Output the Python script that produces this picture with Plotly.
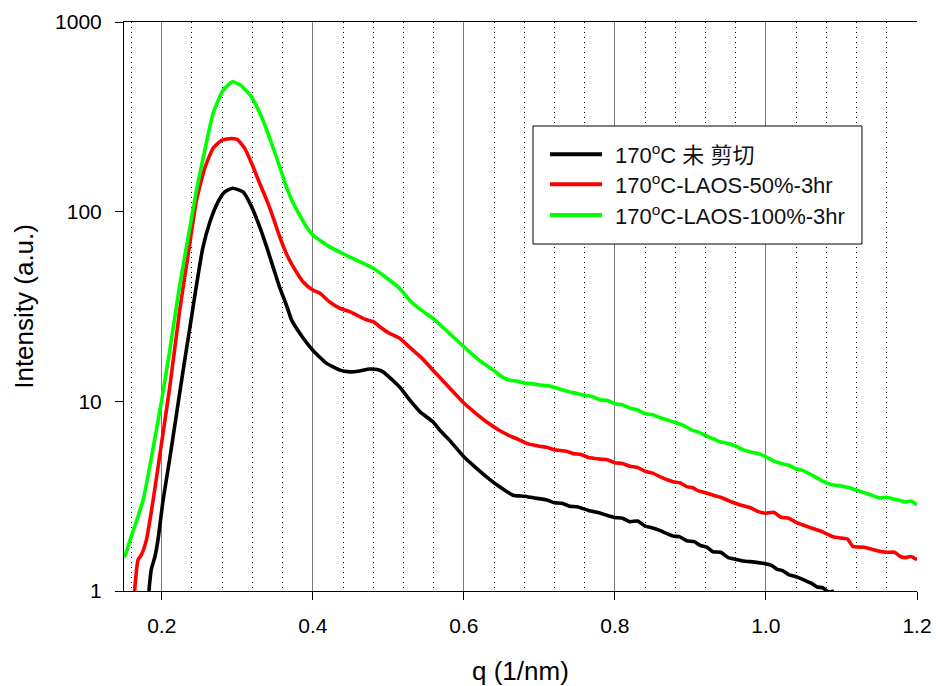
import plotly.graph_objects as go

# Scattering profiles, intensity (a.u.) vs q (1/nm)
names = ["170<sup>o</sup>C 未 剪切", "170<sup>o</sup>C-LAOS-50%-3hr", "170<sup>o</sup>C-LAOS-100%-3hr"]
colors = ["#000000", "#ff0000", "#00ff00"]

q_unsheared = [0.183, 0.186, 0.191, 0.195, 0.2017, 0.2106, 0.2194, 0.228, 0.2371, 0.246, 0.2543, 0.2636,
               0.2742, 0.2834, 0.294, 0.3077, 0.319, 0.3298, 0.339, 0.3474, 0.356, 0.365, 0.372, 0.383,
               0.4, 0.418, 0.436, 0.449, 0.46, 0.475, 0.485, 0.493, 0.505, 0.515, 0.528, 0.542,
               0.559, 0.568, 0.58, 0.6, 0.615, 0.63, 0.645, 0.665, 0.68, 0.692, 0.71, 0.72, 0.73,
               0.74, 0.75, 0.765, 0.78, 0.79, 0.8, 0.81, 0.82, 0.83, 0.84, 0.85, 0.86, 0.877,
               0.886, 0.895, 0.905, 0.913, 0.922, 0.93, 0.94, 0.95, 0.96, 0.97, 0.985, 1.0,
               1.008, 1.015, 1.022, 1.03, 1.04, 1.047, 1.055, 1.06, 1.068, 1.075, 1.083, 1.09]
i_unsheared = [1.0, 1.29, 1.52, 1.86, 3.0, 5.0, 8.5, 14.3, 24.3, 41.0, 64.3, 88.0,
               112.0, 127.0, 133.0, 127.0, 106.0, 83.0, 65.0, 51.0, 40.0, 32.2, 26.8, 22.8,
               18.6, 15.9, 14.6, 14.3, 14.4, 14.8, 14.7, 14.3, 13.0, 11.9, 10.2, 8.8,
               7.8, 7.06, 6.3, 5.1, 4.5, 4.0, 3.6, 3.2, 3.16, 3.1, 3.02, 2.92, 2.9,
               2.8, 2.78, 2.66, 2.58, 2.5, 2.44, 2.42, 2.32, 2.34, 2.2, 2.15, 2.08, 1.95,
               1.93, 1.84, 1.82, 1.74, 1.7, 1.61, 1.6, 1.5, 1.47, 1.44, 1.42, 1.39,
               1.36, 1.3, 1.28, 1.22, 1.19, 1.16, 1.12, 1.1, 1.05, 1.04, 0.99, 1.0]

q_laos50 = [0.164, 0.1686, 0.173, 0.1797, 0.1885, 0.1974, 0.2106, 0.2238, 0.2344, 0.246, 0.257,
            0.268, 0.2795, 0.292, 0.3, 0.31, 0.319, 0.33, 0.339, 0.348, 0.356, 0.365, 0.374,
            0.387, 0.4, 0.4095, 0.422, 0.436, 0.448, 0.458, 0.47, 0.48, 0.49, 0.5, 0.515, 0.53,
            0.545, 0.559, 0.575, 0.588, 0.6, 0.615, 0.63, 0.645, 0.66, 0.672, 0.683, 0.7,
            0.71, 0.72, 0.736, 0.745, 0.755, 0.765, 0.78, 0.79, 0.8, 0.81, 0.82, 0.83, 0.84,
            0.85, 0.86, 0.877, 0.886, 0.895, 0.903, 0.91, 0.92, 0.93, 0.94, 0.95, 0.965, 0.98,
            0.99, 1.0, 1.01, 1.02, 1.03, 1.04, 1.05, 1.06, 1.075, 1.089, 1.1, 1.108, 1.115,
            1.13, 1.14, 1.15, 1.16, 1.17, 1.178, 1.185, 1.192, 1.2]
i_laos50 = [1.0, 1.46, 1.55, 1.86, 3.0, 5.2, 11.9, 30.3, 57.6, 115.0, 170.0,
            216.0, 238.0, 243.0, 240.0, 215.0, 180.0, 140.0, 115.0, 92.0, 74.0, 60.0, 51.3,
            42.7, 38.6, 37.1, 33.5, 30.9, 29.8, 28.5, 27.0, 26.3, 24.5, 23.0, 21.5, 19.0,
            16.8, 14.6, 12.5, 11.0, 9.8, 8.7, 7.8, 7.1, 6.6, 6.3, 6.0, 5.8,
            5.72, 5.55, 5.45, 5.3, 5.25, 5.05, 4.96, 4.92, 4.75, 4.7, 4.55, 4.48, 4.28,
            4.18, 4.0, 3.77, 3.72, 3.55, 3.5, 3.38, 3.3, 3.2, 3.12, 3.0, 2.85, 2.74,
            2.62, 2.57, 2.6, 2.45, 2.42, 2.3, 2.22, 2.15, 2.05, 1.93, 1.9, 1.88, 1.72,
            1.7, 1.66, 1.62, 1.6, 1.6, 1.52, 1.5, 1.52, 1.46]

q_laos100 = [0.15, 0.153, 0.158, 0.1752, 0.188, 0.2, 0.2106, 0.2238, 0.2371, 0.246, 0.257, 0.268,
             0.2812, 0.294, 0.305, 0.3188, 0.33, 0.3386, 0.348, 0.3563, 0.365, 0.3739, 0.3917, 0.4,
             0.42, 0.44, 0.46, 0.48, 0.5, 0.515, 0.53, 0.545, 0.559, 0.58, 0.6, 0.62, 0.639,
             0.65, 0.661, 0.67, 0.68, 0.69, 0.7, 0.71, 0.718, 0.73, 0.74, 0.75, 0.758, 0.77,
             0.78, 0.79, 0.8, 0.81, 0.82, 0.83, 0.84, 0.85, 0.86, 0.877, 0.89, 0.9, 0.91, 0.92,
             0.93, 0.94, 0.95, 0.96, 0.97, 0.98, 0.99, 1.0, 1.01, 1.02, 1.03, 1.04, 1.05, 1.06,
             1.075, 1.089, 1.1, 1.11, 1.12, 1.13, 1.14, 1.15, 1.16, 1.17, 1.178, 1.185, 1.192, 1.2]
i_laos100 = [1.5, 1.6, 1.85, 3.0, 5.5, 10.2, 18.6, 41.0, 82.0, 130.0, 211.0, 330.0,
             437.0, 484.0, 462.0, 403.0, 330.0, 272.0, 214.0, 172.0, 135.0, 111.0, 83.0, 75.3,
             66.0, 60.0, 55.0, 50.3, 44.0, 39.4, 33.5, 30.0, 27.4, 23.0, 19.4, 16.5, 14.6,
             13.5, 12.9, 12.8, 12.5, 12.4, 12.2, 12.1, 11.9, 11.5, 11.2, 11.0, 10.8, 10.6,
             10.2, 10.1, 9.7, 9.6, 9.2, 9.0, 8.6, 8.5, 8.2, 7.8, 7.5, 7.1, 6.9, 6.6,
             6.35, 6.1, 6.0, 5.8, 5.55, 5.4, 5.3, 5.1, 4.85, 4.7, 4.6, 4.4, 4.3, 4.1,
             3.8, 3.62, 3.58, 3.5, 3.4, 3.3, 3.2, 3.1, 3.12, 3.05, 3.0, 2.95, 2.98, 2.84]

xs = [q_unsheared, q_laos50, q_laos100]
ys = [i_unsheared, i_laos50, i_laos100]

x_ticks = [0.2, 0.4, 0.6, 0.8, 1.0, 1.2]
x_ticklabels = ["0.2", "0.4", "0.6", "0.8", "1.0", "1.2"]
y_ticks = [1, 10, 100, 1000]
y_ticklabels = ["1", "10", "100", "1000"]
x_title = "q (1/nm)"
y_title = "Intensity (a.u.)"

FONT = "Liberation Sans, Arial, Noto Sans CJK SC, sans-serif"

fig = go.Figure()
for x, y, name, c in zip(xs, ys, names, colors):
    fig.add_trace(go.Scatter(x=x, y=y, mode="lines", name=name, showlegend=False,
                             line=dict(color=c, width=3.6, shape="spline", smoothing=0.5)))

# Boxed legend drawn in paper coordinates
box = dict(x0=0.5158, x1=0.9306, y0=0.6098, y1=0.8172)
row_y = [0.7675, 0.7148, 0.6608]
shapes = [dict(type="rect", xref="paper", yref="paper", **box,
               line=dict(color="black", width=1), fillcolor="white", layer="above")]
annotations = []
for ry, name, c in zip(row_y, names, colors):
    shapes.append(dict(type="line", xref="paper", yref="paper", x0=0.5372, x1=0.6028,
                       y0=ry, y1=ry, line=dict(color=c, width=4), layer="above"))
    annotations.append(dict(xref="paper", yref="paper", x=0.6166, y=ry, text=name,
                            showarrow=False, xanchor="left", yanchor="middle",
                            font=dict(family=FONT, size=22, color="#111111")))

# Axis titles
annotations.append(dict(xref="paper", yref="paper", x=0.5, y=-0.1406, text=x_title,
                        showarrow=False, xanchor="center", yanchor="middle",
                        font=dict(family=FONT, size=26, color="black")))
annotations.append(dict(xref="paper", yref="paper", x=-0.127, y=0.5, text=y_title,
                        textangle=-90, showarrow=False, xanchor="center", yanchor="middle",
                        font=dict(family=FONT, size=26, color="black")))

fig.update_layout(
    width=936, height=686,
    margin=dict(l=124, r=19, t=22, b=95, autoexpand=False),
    paper_bgcolor="white", plot_bgcolor="white",
    font=dict(family=FONT, size=21, color="black"),
    shapes=shapes, annotations=annotations,
    xaxis=dict(
        range=[0.15, 1.2], tickvals=x_ticks, ticktext=x_ticklabels, automargin=False,
        ticks="outside", ticklen=8, tickcolor="black", tickwidth=1,
        showline=True, linecolor="black", linewidth=1, mirror=True,
        showgrid=True, gridcolor="#7a7a7a", gridwidth=1, zeroline=False,
        minor=dict(dtick=0.04, tick0=0, showgrid=True, gridcolor="black",
                   griddash="1px,4px", gridwidth=1, ticks=""),
        ticklabelstandoff=8,
    ),
    yaxis=dict(
        type="log", range=[0, 3], tickvals=y_ticks, ticktext=y_ticklabels, automargin=False,
        ticks="outside", ticklen=8, tickcolor="black", tickwidth=1,
        showline=True, linecolor="black", linewidth=1, mirror=False,
        showgrid=False, zeroline=False, ticklabelstandoff=9,
    ),
)

fig.write_html("out.html")
